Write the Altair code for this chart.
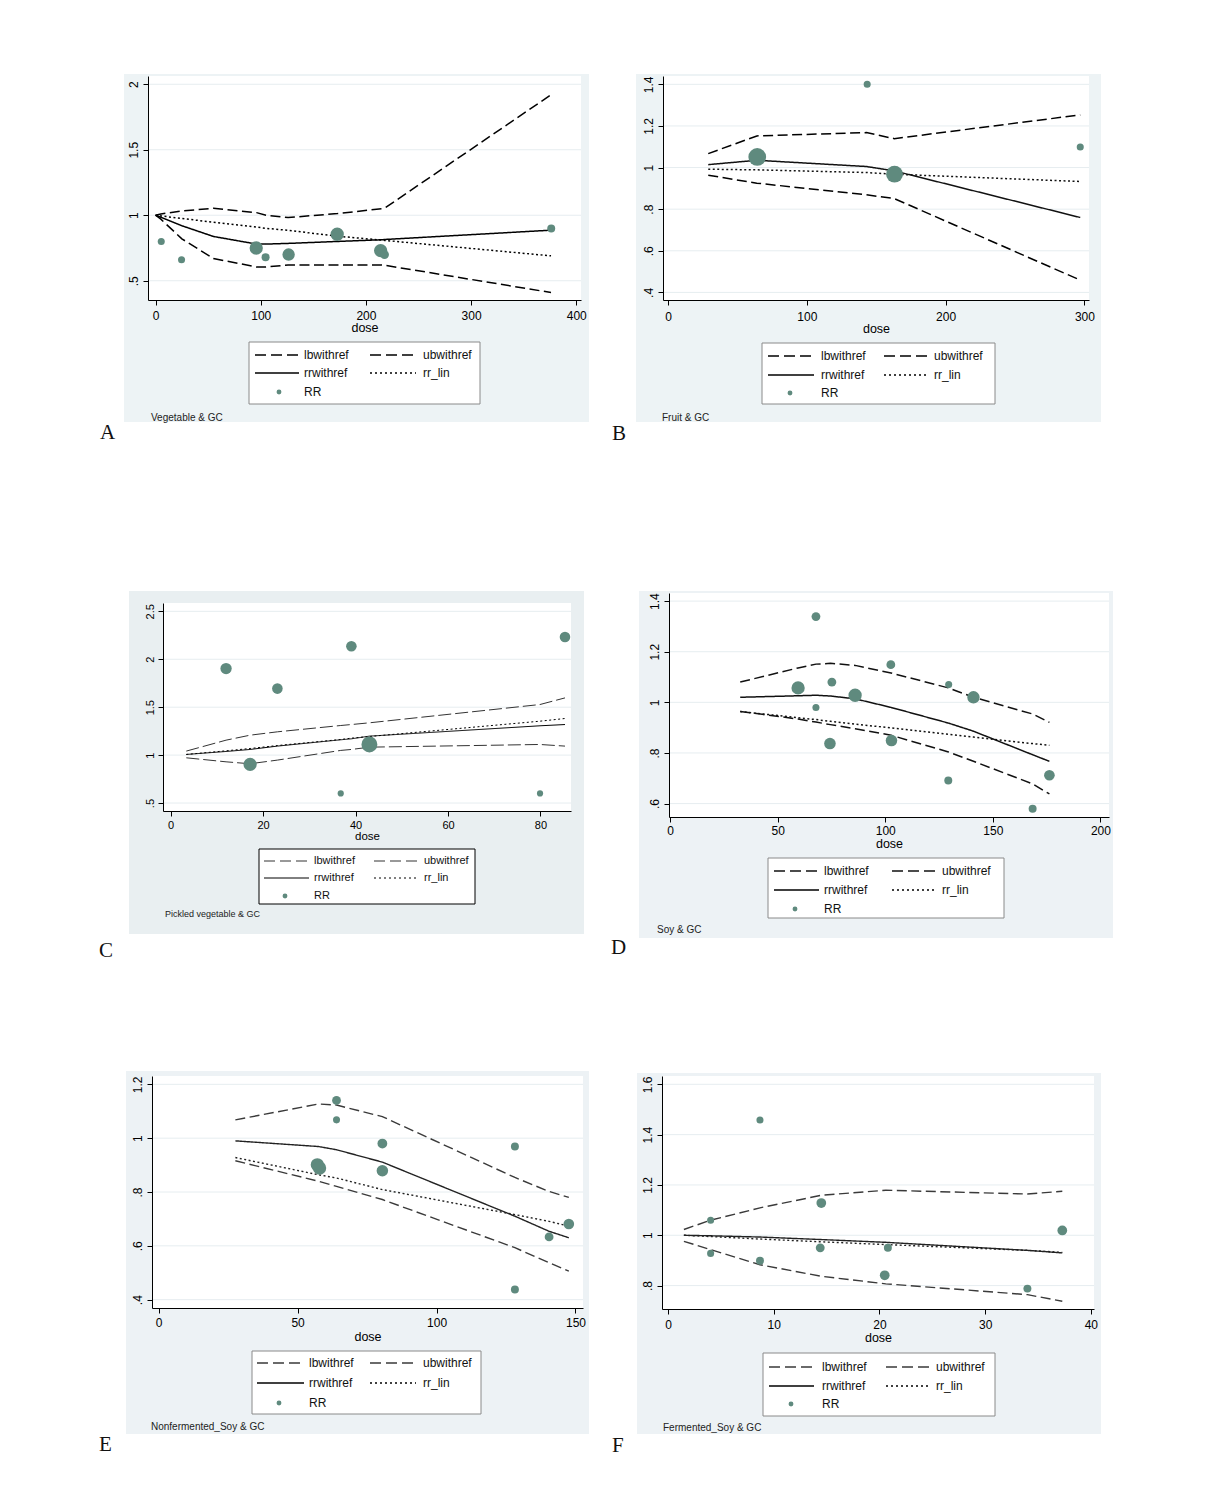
import altair as alt
import pandas as pd

# ---------------- data ----------------
SERIES = ["lbwithref", "ubwithref", "rrwithref", "rr_lin"]
RR_LABEL = "RR"

# A  Vegetable & GC
a_dose = [0, 5, 25, 55, 96, 105, 126, 173, 215, 218, 376]
a_lb = [1.0, 0.97, 0.82, 0.67, 0.605, 0.605, 0.62, 0.62, 0.62, 0.618, 0.41]
a_ub = [1.0, 1.01, 1.033, 1.053, 1.02, 1.0, 0.982, 1.013, 1.05, 1.055, 1.92]
a_rr = [1.0, 0.985, 0.92, 0.838, 0.78, 0.78, 0.785, 0.80, 0.813, 0.815, 0.886]
a_lin = [1.0, 0.995, 0.975, 0.947, 0.91, 0.90, 0.885, 0.84, 0.81, 0.808, 0.69]
a_pt_dose = [5.4, 24.7, 95.7, 104.6, 126.5, 172.7, 214, 217.7, 376.2]
a_pt_rr = [0.80, 0.66, 0.75, 0.68, 0.70, 0.855, 0.73, 0.70, 0.898]
a_pt_w = [28, 28, 100, 36, 87, 100, 100, 44, 36]
a_xticks = [0, 100, 200, 300, 400]
a_yticks = [0.5, 1, 1.5, 2]

# B  Fruit & GC
b_dose = [29, 64, 143, 163, 297]
b_lb = [0.963, 0.925, 0.869, 0.851, 0.459]
b_ub = [1.067, 1.152, 1.168, 1.139, 1.253]
b_rr = [1.014, 1.035, 1.005, 0.984, 0.76]
b_lin = [0.992, 0.989, 0.976, 0.968, 0.933]
b_pt_dose = [64.3, 143.5, 163.2, 297]
b_pt_rr = [1.051, 1.40, 0.968, 1.099]
b_pt_w = [100, 16, 90, 16]
b_xticks = [0, 100, 200, 300]
b_yticks = [0.4, 0.6, 0.8, 1, 1.2, 1.4]

# C  Pickled vegetable & GC
c_dose = [3.4, 12, 17.2, 23.1, 36.8, 39.1, 43, 79.9, 85.3]
c_lb = [0.972, 0.93, 0.91, 0.948, 1.049, 1.059, 1.083, 1.111, 1.094]
c_ub = [1.042, 1.156, 1.208, 1.243, 1.309, 1.319, 1.337, 1.528, 1.597]
c_rr = [1.007, 1.038, 1.059, 1.094, 1.16, 1.17, 1.198, 1.306, 1.319]
c_lin = [1.007, 1.045, 1.069, 1.10, 1.163, 1.177, 1.194, 1.354, 1.382]
c_pt_dose = [12.0, 17.2, 23.1, 36.8, 39.1, 43.0, 79.9, 85.3]
c_pt_rr = [1.903, 0.903, 1.694, 0.60, 2.135, 1.111, 0.60, 2.233]
c_pt_w = [50, 69, 44, 15, 44, 100, 15, 44]
c_xticks = [0, 20, 40, 60, 80]
c_yticks = [0.5, 1, 1.5, 2, 2.5]

# D  Soy & GC
d_dose = [32.6, 59.5, 67.8, 74.5, 86, 102.7, 129.4, 141, 168.5, 176.3]
d_lb = [0.964, 0.934, 0.922, 0.912, 0.896, 0.87, 0.804, 0.767, 0.678, 0.638]
d_ub = [1.08, 1.136, 1.151, 1.154, 1.146, 1.116, 1.057, 1.02, 0.954, 0.921]
d_rr = [1.02, 1.026, 1.028, 1.025, 1.014, 0.98, 0.918, 0.886, 0.793, 0.767]
d_lin = [0.964, 0.939, 0.932, 0.925, 0.914, 0.899, 0.874, 0.863, 0.837, 0.83]
d_pt_dose = [59.5, 67.8, 67.8, 75.2, 74.3, 86, 102.6, 102.9, 129.5, 129.3, 141, 168.5, 176.3]
d_pt_rr = [1.057, 1.339, 0.98, 1.08, 0.837, 1.028, 1.149, 0.849, 1.07, 0.691, 1.02, 0.58, 0.712]
d_pt_w = [100, 44, 28, 44, 75, 100, 44, 75, 28, 36, 87, 36, 64]
d_xticks = [0, 50, 100, 150, 200]
d_yticks = [0.6, 0.8, 1, 1.2, 1.4]

# E  Nonfermented_Soy & GC
e_dose = [27.6, 57.5, 64, 80.5, 128.2, 140.5, 147.6]
e_lb = [0.916, 0.84, 0.821, 0.772, 0.593, 0.537, 0.506]
e_ub = [1.068, 1.127, 1.123, 1.08, 0.854, 0.802, 0.78]
e_rr = [0.99, 0.969, 0.957, 0.911, 0.71, 0.654, 0.63]
e_lin = [0.928, 0.864, 0.852, 0.809, 0.716, 0.691, 0.673]
e_pt_dose = [57.1, 57.9, 64.0, 64.0, 80.5, 80.5, 128.2, 128.2, 140.5, 147.6]
e_pt_rr = [0.901, 0.889, 1.14, 1.068, 0.98, 0.879, 0.969, 0.438, 0.633, 0.681]
e_pt_w = [100, 100, 44, 28, 54, 75, 36, 36, 44, 64]
e_xticks = [0, 50, 100, 150]
e_yticks = [0.4, 0.6, 0.8, 1, 1.2]

# F  Fermented_Soy & GC
f_dose = [1.5, 4.03, 8.7, 14.5, 20.6, 34.0, 37.3]
f_lb = [0.976, 0.943, 0.883, 0.837, 0.807, 0.764, 0.738]
f_ub = [1.023, 1.06, 1.109, 1.159, 1.179, 1.164, 1.175]
f_rr = [1.0, 0.998, 0.993, 0.983, 0.972, 0.94, 0.93]
f_lin = [1.0, 0.995, 0.985, 0.974, 0.963, 0.94, 0.932]
f_pt_dose = [4.03, 4.03, 8.7, 8.7, 14.5, 14.4, 20.5, 20.8, 34.0, 37.3]
f_pt_rr = [1.06, 0.928, 1.458, 0.899, 1.128, 0.95, 0.841, 0.95, 0.788, 1.019]
f_pt_w = [53, 53, 53, 67, 100, 83, 100, 67, 67, 100]
f_xticks = [0, 10, 20, 30, 40]
f_yticks = [0.8, 1, 1.2, 1.4, 1.6]

# ---------------- layout / style (page pixel coordinates) ----------------
PT_COLOR = "#5f8a7e"
GRID = "#e6edf0"
LBL = "datum.value < 1 ? replace(format(datum.value, '.1f'), '0.', '.') : format(datum.value, '~g')"
SANS = "Liberation Sans"
SERIF = "Liberation Serif"

PANELS = {
    "A": dict(caption="Vegetable & GC", dose=a_dose, lb=a_lb, ub=a_ub, rr=a_rr, lin=a_lin,
              pd=a_pt_dose, pv=a_pt_rr, pw=a_pt_w, xticks=a_xticks, yticks=a_yticks,
              x=147, y=75, w=433, h=224, xdom=[-7.2, 404.5], ydom=[0.353, 2.063],
              region=(123, 73, 588, 421), box=(248, 341, 479, 403), c1=(254, 298), l1=303,
              c2=(369, 415), l2=422, rows=(354, 372, 391), dot=278, cap=(150, 417), let=(99, 432),
              smax=177, fs=12, lw=1.5, dash=[10, 4.5], dcol="#000", scol="#000", bg="#edf3f5",
              boxstroke="#8a8a8a", lpad=5, tpad=0),
    "B": dict(caption="Fruit & GC", dose=b_dose, lb=b_lb, ub=b_ub, rr=b_rr, lin=b_lin,
              pd=b_pt_dose, pv=b_pt_rr, pw=b_pt_w, xticks=b_xticks, yticks=b_yticks,
              x=662, y=75, w=426, h=224, xdom=[-3.6, 303.3], ydom=[0.3635, 1.44],
              region=(635, 73, 1100, 421), box=(761, 342, 994, 403), c1=(767, 813), l1=820,
              c2=(883, 928), l2=933, rows=(355, 374, 392), dot=789, cap=(661, 417), let=(611, 433),
              smax=314, fs=12, lw=1.5, dash=[10, 4.5], dcol="#000", scol="#111", bg="#edf3f5",
              boxstroke="#8a8a8a", lpad=6, tpad=0),
    "C": dict(caption="Pickled vegetable & GC", dose=c_dose, lb=c_lb, ub=c_ub, rr=c_rr, lin=c_lin,
              pd=c_pt_dose, pv=c_pt_rr, pw=c_pt_w, xticks=c_xticks, yticks=c_yticks,
              x=162, y=602, w=408, h=208, xdom=[-1.64, 86.6], ydom=[0.417, 2.587],
              region=(128, 590, 583, 933), box=(258, 848, 474, 903), c1=(263, 308), l1=313,
              c2=(373, 418), l2=423, rows=(860, 877, 895), dot=284, cap=(164, 913), let=(98, 950),
              smax=254, fs=11, lw=1.0, dash=[13, 4], dcol="#333", scol="#000", bg="#e9eff1",
              boxstroke="#000", lpad=3, tpad=0),
    "D": dict(caption="Soy & GC", dose=d_dose, lb=d_lb, ub=d_ub, rr=d_rr, lin=d_lin,
              pd=d_pt_dose, pv=d_pt_rr, pw=d_pt_w, xticks=d_xticks, yticks=d_yticks,
              x=668, y=592, w=440, h=224, xdom=[-0.5, 204], ydom=[0.547, 1.432],
              region=(638, 590, 1112, 937), box=(767, 857, 1003, 917), c1=(773, 818), l1=823,
              c2=(891, 935), l2=941, rows=(870, 889, 908), dot=794, cap=(656, 929), let=(610, 947),
              smax=177, fs=12, lw=1.5, dash=[10, 4.5], dcol="#111", scol="#111", bg="#edf2f5",
              boxstroke="#8a8a8a", lpad=3, tpad=1),
    "E": dict(caption="Nonfermented_Soy & GC", dose=e_dose, lb=e_lb, ub=e_ub, rr=e_rr, lin=e_lin,
              pd=e_pt_dose, pv=e_pt_rr, pw=e_pt_w, xticks=e_xticks, yticks=e_yticks,
              x=151, y=1075, w=431, h=232, xdom=[-2.4, 152.7], ydom=[0.369, 1.231],
              region=(125, 1070, 588, 1433), box=(251, 1350, 480, 1413), c1=(256, 303), l1=308,
              c2=(369, 415), l2=422, rows=(1362, 1382, 1402), dot=278, cap=(150, 1426), let=(98, 1444),
              smax=177, fs=12, lw=1.4, dash=[10, 4.5], dcol="#3a3a3a", scol="#222", bg="#edf2f5",
              boxstroke="#8a8a8a", lpad=4, tpad=2),
    "F": dict(caption="Fermented_Soy & GC", dose=f_dose, lb=f_lb, ub=f_ub, rr=f_rr, lin=f_lin,
              pd=f_pt_dose, pv=f_pt_rr, pw=f_pt_w, xticks=f_xticks, yticks=f_yticks,
              x=661, y=1075, w=432, h=233, xdom=[-0.57, 40.3], ydom=[0.707, 1.633],
              region=(636, 1072, 1100, 1433), box=(762, 1352, 994, 1415), c1=(768, 813), l1=821,
              c2=(885, 930), l2=935, rows=(1366, 1385, 1403), dot=790, cap=(662, 1427), let=(611, 1445),
              smax=95, fs=12, lw=1.4, dash=[10, 4.5], dcol="#3a3a3a", scol="#222", bg="#edf2f5",
              boxstroke="#8a8a8a", lpad=5, tpad=1),
}

ONE = pd.DataFrame({"k": [0]})
DOT = [2, 2.5]
INDEP = dict(size="independent", color="independent", strokeDash="independent")


def panel(letter, p):
    ox, oy, w, h = p["x"], p["y"], p["w"], p["h"]

    def rx(v):
        return v - ox

    def ry(v):
        return v - oy

    base = alt.Chart(ONE)
    fs = p["fs"]
    xaxis = alt.Axis(values=p["xticks"], format="d", title="dose", grid=False, zindex=1,
                     tickSize=5, labelPadding=p["lpad"], titlePadding=p["tpad"],
                     labelFontSize=fs, titleFontSize=fs + 0.5, labelFlush=False, labelOverlap=False)
    yaxis = alt.Axis(values=p["yticks"], labelExpr=LBL, title="", grid=False, zindex=1,
                     tickSize=5, labelPadding=3, labelAngle=270, labelAlign="center",
                     labelBaseline="bottom", labelFontSize=fs, labelFlush=False, labelOverlap=False)
    X = alt.X("dose:Q", scale=alt.Scale(domain=p["xdom"], nice=False, zero=False), axis=xaxis)
    Y = alt.Y("v:Q", scale=alt.Scale(domain=p["ydom"], nice=False, zero=False), axis=yaxis)

    layers = []
    gx1, gy1, gx2, gy2 = p["region"]
    layers.append(base.mark_rect(fill=p["bg"]).encode(
        x=alt.value(rx(gx1)), x2=alt.value(rx(gx2)), y=alt.value(ry(gy1)), y2=alt.value(ry(gy2))))
    layers.append(base.mark_rect(fill="white").encode(
        x=alt.value(0), x2=alt.value(w), y=alt.value(0), y2=alt.value(h)))

    grid = pd.DataFrame({"v": p["yticks"]})
    layers.append(alt.Chart(grid).mark_rule(color=GRID, strokeWidth=1).encode(
        y=Y, x=alt.value(0), x2=alt.value(w)))

    rows = []
    for s, arr in zip(SERIES, [p["lb"], p["ub"], p["rr"], p["lin"]]):
        for d, v in zip(p["dose"], arr):
            rows.append({"dose": d, "v": v, "s": s})
    ldf = pd.DataFrame(rows)
    layers.append(alt.Chart(ldf).mark_line(strokeWidth=p["lw"]).encode(
        x=X, y=Y,
        strokeDash=alt.StrokeDash("s:N", scale=alt.Scale(domain=SERIES,
                                                         range=[p["dash"], p["dash"], [1, 0], DOT])),
        color=alt.Color("s:N", scale=alt.Scale(domain=SERIES,
                                               range=[p["dcol"], p["dcol"], p["scol"], p["scol"]])),
    ))

    pdf = pd.DataFrame({"dose": p["pd"], "v": p["pv"], "w": p["pw"]})
    layers.append(alt.Chart(pdf).mark_circle(color=PT_COLOR, opacity=1).encode(
        x=X, y=Y,
        size=alt.Size("w:Q", scale=alt.Scale(domain=[0, 100], range=[0, p["smax"]]))))

    # legend box
    bx1, by1, bx2, by2 = p["box"]
    layers.append(base.mark_rect(fill="white", stroke=p["boxstroke"], strokeWidth=1).encode(
        x=alt.value(rx(bx1)), x2=alt.value(rx(bx2)), y=alt.value(ry(by1)), y2=alt.value(ry(by2))))
    r1, r2, r3 = p["rows"]
    lsw = 1.5 if fs >= 12 else 1.0
    samples = [
        (p["c1"], r1, [11, 5], p["dcol"]),
        (p["c2"], r1, [11, 5], p["dcol"]),
        (p["c1"], r2, None, "#000"),
        (p["c2"], r2, [2, 3], "#000"),
    ]
    for (xa, xb), yy, dash, col in samples:
        kw = dict(strokeWidth=lsw, color=col)
        if dash is not None:
            kw["strokeDash"] = dash
        layers.append(base.mark_rule(**kw).encode(
            x=alt.value(rx(xa)), x2=alt.value(rx(xb)), y=alt.value(ry(yy))))
    layers.append(base.mark_circle(color=PT_COLOR, opacity=1, size=24).encode(
        x=alt.value(rx(p["dot"])), y=alt.value(ry(r3))))
    labels = [(SERIES[0], p["l1"], r1), (SERIES[1], p["l2"], r1),
              (SERIES[2], p["l1"], r2), (SERIES[3], p["l2"], r2), (RR_LABEL, p["l1"], r3)]
    for t, xx, yy in labels:
        layers.append(base.mark_text(text=t, font=SANS, fontSize=fs, align="left",
                                     baseline="middle", color="#111").encode(
            x=alt.value(rx(xx)), y=alt.value(ry(yy))))
    cx, cy = p["cap"]
    layers.append(base.mark_text(text=p["caption"], font=SANS, fontSize=fs - 2, align="left",
                                 baseline="middle", color="#222").encode(
        x=alt.value(rx(cx)), y=alt.value(ry(cy))))
    lx, ly = p["let"]
    layers.append(base.mark_text(text=letter, font=SERIF, fontSize=21, align="left",
                                 baseline="middle", color="#111").encode(
        x=alt.value(rx(lx)), y=alt.value(ry(ly))))

    return alt.layer(*layers).properties(width=w, height=h).resolve_scale(**INDEP)


def spacer(w, h):
    # an invisible, tiny mark kept inside the spacer's own box
    return alt.Chart(ONE).mark_point(opacity=0, size=1).encode(
        x=alt.value(2), y=alt.value(2)).properties(width=w, height=h)


P = PANELS
ch = {k: panel(k, v) for k, v in P.items()}
M = 8

# In a "flush" layout a nested concat counts as zero-sized, so spacers
# measure from the start of one nested block to the start of the next.
row1 = alt.hconcat(spacer(P["A"]["x"] - M, 1), ch["A"],
                   spacer(P["B"]["x"] - (P["A"]["x"] + P["A"]["w"]), 1), ch["B"],
                   spacing=0, bounds="flush").resolve_scale(**INDEP)
row2_top = min(P["C"]["y"], P["D"]["y"])
c_wrap = alt.vconcat(spacer(1, P["C"]["y"] - row2_top), ch["C"],
                     spacing=0, bounds="flush").resolve_scale(**INDEP)
row2 = alt.hconcat(spacer(P["C"]["x"] - M, 1), c_wrap,
                   spacer(P["D"]["x"] - P["C"]["x"], 1), ch["D"],
                   spacing=0, bounds="flush").resolve_scale(**INDEP)
row3 = alt.hconcat(spacer(P["E"]["x"] - M, 1), ch["E"],
                   spacer(P["F"]["x"] - (P["E"]["x"] + P["E"]["w"]), 1), ch["F"],
                   spacing=0, bounds="flush").resolve_scale(**INDEP)

row1_top = P["A"]["y"]
row3_top = P["E"]["y"]

chart = alt.vconcat(
    spacer(1, row1_top - M), row1,
    spacer(1, row2_top - row1_top), row2,
    spacer(1, row3_top - row2_top), row3,
    spacing=0, bounds="flush", padding=0, background="white",
).resolve_scale(**INDEP).configure_view(stroke="transparent").configure_legend(disable=True).configure_axis(
    labelFont=SANS, titleFont=SANS, titleFontWeight="normal", labelColor="#000",
    titleColor="#000", domainColor="#000", tickColor="#000", domainWidth=1, tickWidth=1,
)

chart.save("out.html", embed_options={"renderer": "svg", "actions": False})
